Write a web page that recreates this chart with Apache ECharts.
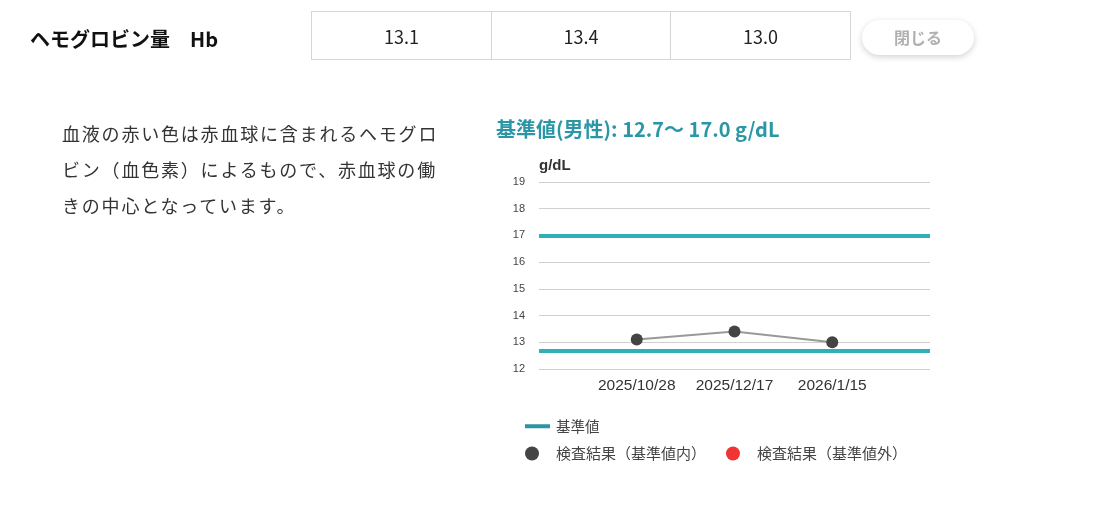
<!DOCTYPE html>
<html lang="ja">
<head>
<meta charset="utf-8">
<script src="https://cdn.jsdelivr.net/npm/echarts@6/dist/echarts.min.js"></script>
<style>
  html, body { margin:0; padding:0; background:#fff; }
  body { width:1098px; height:506px; position:relative; overflow:hidden;
         font-family:"Noto Sans CJK JP","Noto Sans",sans-serif; color:#222; }
  #chart { position:absolute; left:0; top:0; width:1098px; height:506px; }
  .abs { position:absolute; }
  #itemName { left:30px; top:25px; font-size:20px; font-weight:bold; line-height:28px; color:#111; white-space:pre; }
  table#vals { position:absolute; left:311px; top:11px; border-collapse:collapse; }
  table#vals td { border:1px solid #d6d6d6; height:47px; text-align:center; font-size:18px; color:#222; padding:0; }
  #closeBtn { left:862px; top:20px; width:112px; height:35px; border-radius:18px; background:#fff;
              box-shadow:0 2px 6px rgba(0,0,0,0.18); text-align:center; line-height:35px;
              font-size:16px; font-weight:bold; color:#b0b0b0; }
  #desc { left:62px; top:115px; width:385px; font-size:18px; letter-spacing:1.8px; line-height:36px; color:#333; }
  #refTitle { left:496px; top:114px; font-size:20px; font-weight:bold; color:#2b97a6; white-space:nowrap; }
</style>
</head>
<body>
<div id="chart"></div>
<div id="itemName" class="abs"></div>
<table id="vals"><tr id="valRow"></tr></table>
<div id="closeBtn" class="abs">閉じる</div>
<div id="desc" class="abs"></div>
<div id="refTitle" class="abs"></div>
<script>
// ---- data ----
const itemLabel = "ヘモグロビン量　Hb";
const dates = ["2025/10/28", "2025/12/17", "2026/1/15"];
const hbValues = [13.1, 13.4, 13.0];
const valueTexts = ["13.1", "13.4", "13.0"];
const refLower = 12.7;
const refUpper = 17.0;
const unit = "g/dL";
const yMin = 12, yMax = 19, yStep = 1;
const description = "血液の赤い色は赤血球に含まれるヘモグロビン（血色素）によるもので、赤血球の働きの中心となっています。";
const refTitleText = "基準値(男性): 12.7〜 17.0 g/dL";
const legendRef = "基準値";
const legendIn = "検査結果（基準値内）";
const legendOut = "検査結果（基準値外）";

// ---- html text ----
document.getElementById('itemName').textContent = itemLabel;
const row = document.getElementById('valRow');
const widths = [179, 178, 179];
valueTexts.forEach((t, i) => {
  const td = document.createElement('td');
  td.style.width = widths[i] + 'px';
  td.textContent = t;
  row.appendChild(td);
});
document.getElementById('desc').textContent = description;
document.getElementById('refTitle').textContent = refTitleText;

// ---- chart ----
const red = '#ee0000';
const cats = [""].concat(dates, [""]);
const inVals = [null].concat(hbValues, [null]);
const outVals = [null].concat(hbValues.map(v => (v < refLower || v > refUpper) ? v : null), [null]);

const teal = '#2fb0b8';
const chart = echarts.init(document.getElementById('chart'), null, { renderer: 'canvas' });
chart.setOption({
  animation: false,
  textStyle: { fontFamily: '"Liberation Sans","Noto Sans CJK JP",sans-serif' },
  grid: { left: 539, right: 168, top: 182, bottom: 137 },
  legend: [
    {
      left: 520, top: 414, orient: 'horizontal',
      itemWidth: 25, itemHeight: 4,
      selectedMode: false,
      textStyle: { fontSize: 14.5, color: '#444', fontFamily: '"Noto Sans CJK JP",sans-serif', padding: [0,0,0,1] },
      data: [{ name: legendRef, icon: 'rect', itemStyle: { color: '#2a95a5' } }]
    },
    {
      left: 520, top: 441, orient: 'horizontal',
      itemWidth: 14, itemHeight: 14, itemGap: 20,
      selectedMode: false,
      textStyle: { fontSize: 15, color: '#444', fontFamily: '"Noto Sans CJK JP",sans-serif', padding: [0,0,0,12] },
      data: [
        { name: legendIn, icon: 'circle', itemStyle: { color: '#444' } },
        { name: legendOut, icon: 'circle', itemStyle: { color: red } }
      ]
    }
  ],
  xAxis: {
    type: 'category', data: cats, boundaryGap: false,
    axisLine: { show: false }, axisTick: { show: false },
    axisLabel: { fontSize: 15.5, color: '#333', margin: 9, interval: 0 },
    splitLine: { show: false }
  },
  yAxis: {
    type: 'value', min: yMin, max: yMax, interval: yStep,
    name: unit, nameLocation: 'end', nameGap: 9,
    nameTextStyle: { fontSize: 15, fontWeight: 'bold', color: '#333', align: 'left' },
    axisLine: { show: false }, axisTick: { show: false },
    axisLabel: { fontSize: 11, color: '#444', margin: 14 },
    splitLine: { lineStyle: { color: '#d0d0d0', width: 1 } }
  },
  series: [
    {
      name: legendRef, type: 'line', data: [],
      markLine: {
        silent: true, symbol: 'none', label: { show: false },
        lineStyle: { color: teal, width: 4, type: 'solid' },
        data: [{ yAxis: refUpper }, { yAxis: refLower }]
      }
    },
    {
      name: legendIn, type: 'line', data: inVals,
      symbol: 'circle', symbolSize: 12, showAllSymbol: true,
      lineStyle: { color: '#999', width: 2 },
      itemStyle: { color: p => (p.value < refLower || p.value > refUpper) ? red : '#444' },
      z: 5
    },
    {
      name: legendOut, type: 'scatter', data: outVals,
      symbolSize: 12, itemStyle: { color: red }, z: 6
    }
  ]
});
</script>
</body>
</html>
